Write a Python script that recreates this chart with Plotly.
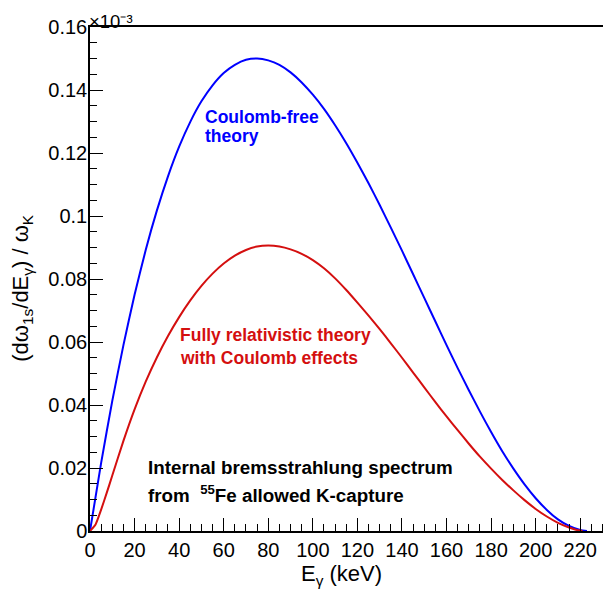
import plotly.graph_objects as go

# Photon energy grid (keV) and spectra (values shown on the axis, in units of 1e-3)
energy_free = [0, 5, 10, 15, 20, 25, 30, 35, 40, 45, 50, 55, 60, 65, 70, 75, 80, 85, 90,
               95, 100, 105, 110, 115, 120, 125, 130, 135, 140, 145, 150, 155, 160, 165,
               170, 175, 180, 185, 190, 195, 200, 205, 210, 215, 220, 223]
coulomb_free = [0.0, 0.0216, 0.0413, 0.0590, 0.0750, 0.0892, 0.1017, 0.1126, 0.1220,
                0.1299, 0.1364, 0.1415, 0.1454, 0.1480, 0.1496, 0.1500, 0.1494, 0.1480,
                0.1456, 0.1424, 0.1385, 0.1340, 0.1288, 0.1231, 0.1169, 0.1104, 0.1035,
                0.0963, 0.0890, 0.0815, 0.0740, 0.0665, 0.0590, 0.0517, 0.0447, 0.0379,
                0.0314, 0.0253, 0.0198, 0.0148, 0.0104, 0.0067, 0.0037, 0.0016, 0.0003, 0.0]

energy_rel = [0, 2.5, 5, 7.5, 10, 15, 20, 25, 30, 35, 40, 45, 50, 55, 60, 65, 70, 75, 80,
              85, 90, 95, 100, 105, 110, 115, 120, 125, 130, 135, 140, 145, 150, 155, 160,
              165, 170, 175, 180, 185, 190, 195, 200, 205, 210, 215, 218, 221]
relativistic = [0.0, 0.0021, 0.0068, 0.0121, 0.0176, 0.0286, 0.0386, 0.0474, 0.0551,
                0.0619, 0.0679, 0.0732, 0.0778, 0.0817, 0.0849, 0.0874, 0.0892, 0.0903,
                0.0906, 0.0903, 0.0894, 0.0880, 0.0860, 0.0834, 0.0802, 0.0765, 0.0725,
                0.0684, 0.0641, 0.0596, 0.0550, 0.0503, 0.0456, 0.0409, 0.0364, 0.0320,
                0.0277, 0.0236, 0.0198, 0.0162, 0.0129, 0.0098, 0.0070, 0.0046, 0.0026,
                0.0011, 0.0004, 0.0]

x_title = "E<sub>γ</sub> (keV)"
y_title = "(dω<sub>1s</sub>/dE<sub>γ</sub>) / ω<sub>K</sub>"
exponent_label = "×10⁻³"

BLUE = "#0000ff"
RED = "#d40f0f"
FONT = "Liberation Sans"

# the page body has an 8px margin, so the figure is sized to fit inside the window
OFF = 8
W, H = 611 - OFF, 598 - OFF
ML, MR, MT, MB = 90 - OFF, 0, 27 - OFF, 598 - 531.5
PW, PH = W - ML - MR, H - MT - MB

fig = go.Figure()
fig.add_trace(go.Scatter(x=energy_free, y=coulomb_free, mode="lines",
                         line=dict(color=BLUE, width=2, shape="spline", smoothing=0.5),
                         showlegend=False, hoverinfo="skip"))
fig.add_trace(go.Scatter(x=energy_rel, y=relativistic, mode="lines",
                         line=dict(color=RED, width=2, shape="spline", smoothing=0.5),
                         showlegend=False, hoverinfo="skip"))

def px(xp, yp):
    # convert a pixel position in the window to paper coordinates
    return (xp - OFF - ML) / PW, (H - MB - (yp - OFF)) / PH

def note(text, xp, yp, color, size, xanchor="left", angle=0, pad=1):
    x, y = px(xp, yp)
    fig.add_annotation(text=text, x=x, y=y, xref="paper", yref="paper",
                       xanchor=xanchor, yanchor="middle", showarrow=False,
                       textangle=angle, borderpad=pad,
                       font=dict(family=FONT, size=size, color=color))

note("<b>Coulomb-free</b>", 203, 117, BLUE, 17.5)
note("<b>theory</b>", 203, 136, BLUE, 17.5)
note("<b>Fully relativistic theory</b>", 178, 335, RED, 17.5)
note("<b>with Coulomb effects</b>", 178, 358, RED, 17.5)
note("<b>Internal bremsstrahlung spectrum</b>", 146, 468, "black", 18.8)
note("<b>from  <sup>55</sup>Fe allowed K-capture</b>", 146, 494, "black", 18.8)
note(exponent_label, 88, 21, "black", 18.5, pad=0)
note(x_title, 341, 576, "black", 22, xanchor="center")
note(y_title, 22, 288, "black", 22, xanchor="center", angle=-90)

axis_common = dict(showline=True, linecolor="black", linewidth=1.5,
                   ticks="inside", tickcolor="black", tickwidth=1, ticklen=13,
                   showgrid=False, zeroline=False, automargin=False,
                   tickfont=dict(family=FONT, size=20, color="black"))

fig.update_xaxes(range=[0, 233.8], tick0=0, dtick=20, mirror=True,
                 minor=dict(ticks="inside", ticklen=7, dtick=5, tick0=0,
                            tickcolor="black", tickwidth=1, showgrid=False),
                 **axis_common)
fig.update_yaxes(range=[0, 0.16], tick0=0, dtick=0.02, mirror=False,
                 ticklabelstandoff=-3,
                 minor=dict(ticks="inside", ticklen=7, dtick=0.005, tick0=0,
                            tickcolor="black", tickwidth=1, showgrid=False),
                 **axis_common)

fig.update_layout(width=W, height=H,
                  margin=dict(l=ML, r=MR, t=MT, b=MB, pad=0),
                  plot_bgcolor="white", paper_bgcolor="white",
                  font=dict(family=FONT, color="black"))

fig.write_html("out.html", config={"displayModeBar": False})
